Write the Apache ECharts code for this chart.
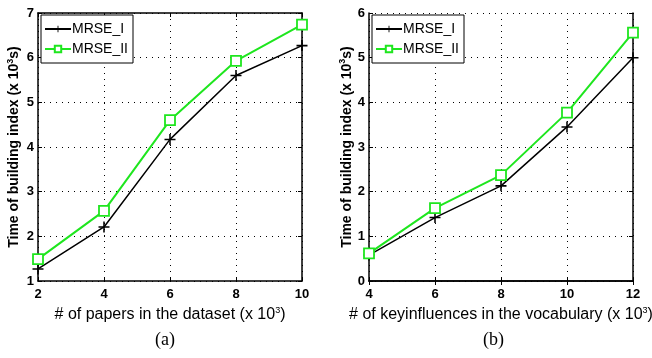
<!DOCTYPE html>
<html><head><meta charset="utf-8">
<script src="https://cdn.jsdelivr.net/npm/echarts@6/dist/echarts.min.js"></script>
<style>html,body{margin:0;padding:0;background:#fff}#c{width:652px;height:358px}</style>
</head><body><div id="c"></div>
<script>
const xA = [2, 4, 6, 8, 10];
const mrse1A = [1.27, 2.21, 4.17, 5.6, 6.27];
const mrse2A = [1.49, 2.57, 4.6, 5.93, 6.74];
const xB = [4, 6, 8, 10, 12];
const mrse1B = [0.58, 1.42, 2.13, 3.45, 5.0];
const mrse2B = [0.62, 1.63, 2.37, 3.77, 5.56];
const seriesNames = ['MRSE_I', 'MRSE_II'];
const xNameA = '# of papers in the dataset (x 10{s|3})';
const xNameB = '# of keyinfluences in the vocabulary (x 10{s|3})';
const yName = 'Time of building index (x 10{s|3}s)';
const subLabels = ['(a)', '(b)'];

const chart = echarts.init(document.getElementById('c'), null, {renderer: 'canvas'});
const GREEN = '#1ee61e';
const plusPath = 'path://M4.3,0 H5.7 V4.3 H10 V5.7 H5.7 V10 H4.3 V5.7 H0 V4.3 H4.3 Z';
const grids = [
  {left: 38, top: 13, width: 264, height: 268, containLabel: false, outerBoundsMode: 'none'},
  {left: 369, top: 13, width: 264, height: 268, containLabel: false, outerBoundsMode: 'none'}
];
function rich(bold) {
  return {s: {fontSize: 9, verticalAlign: 'top', padding: [0, 0, 8, 0], fontFamily: 'Liberation Sans', fontWeight: bold ? 'bold' : 'normal', color: '#000'}};
}
function mainX(gi, min, max, name) {
  return {
    type: 'value', gridIndex: gi, min: min, max: max, interval: 2, position: 'bottom',
    name: name, nameLocation: 'middle', nameGap: 22,
    nameTextStyle: {fontFamily: 'Liberation Sans', fontSize: 16, color: '#000', rich: rich(false)},
    axisLine: {show: true, lineStyle: {color: '#000', width: 1.5}},
    axisTick: {show: true, inside: true, length: 4, lineStyle: {color: '#000'}},
    axisLabel: {fontFamily: 'Liberation Sans', fontWeight: 'bold', fontSize: 13, color: '#000', margin: 7},
    splitLine: {show: true, lineStyle: {color: '#000', type: [1, 5], width: 1}}
  };
}
function topX(gi, min, max) {
  return {
    type: 'value', gridIndex: gi, min: min, max: max, interval: 2, position: 'top',
    axisLine: {show: true, lineStyle: {color: '#000', width: 1.5}},
    axisTick: {show: true, inside: true, length: 4, lineStyle: {color: '#000'}},
    axisLabel: {show: false}, splitLine: {show: false}
  };
}
function mainY(gi, min, max, gap) {
  return {
    type: 'value', gridIndex: gi, min: min, max: max, interval: 1, position: 'left',
    name: yName, nameLocation: 'middle', nameGap: gap, nameRotate: 90,
    nameTextStyle: {fontFamily: 'Liberation Sans', fontWeight: 'bold', fontSize: 14, color: '#000', rich: rich(true)},
    axisLine: {show: true, lineStyle: {color: '#000', width: 1.5}},
    axisTick: {show: true, inside: true, length: 4, lineStyle: {color: '#000'}},
    axisLabel: {fontFamily: 'Liberation Sans', fontWeight: 'bold', fontSize: 13, color: '#000', margin: 4},
    splitLine: {show: true, lineStyle: {color: '#000', type: [1, 5], width: 1}}
  };
}
function rightY(gi, min, max) {
  return {
    type: 'value', gridIndex: gi, min: min, max: max, interval: 1, position: 'right',
    axisLine: {show: true, lineStyle: {color: '#000', width: 1.5}},
    axisTick: {show: true, inside: true, length: 4, lineStyle: {color: '#000'}},
    axisLabel: {show: false}, splitLine: {show: false}
  };
}
function pairs(xs, ys) { return xs.map((x, i) => [x, ys[i]]); }
function s1(xi, yi, xs, ys) {
  return {name: seriesNames[0], type: 'line', xAxisIndex: xi, yAxisIndex: yi, data: pairs(xs, ys),
    symbol: plusPath, symbolSize: 11, showSymbol: true,
    lineStyle: {color: '#000', width: 1.5}, itemStyle: {color: '#000'}, z: 3};
}
function s2(xi, yi, xs, ys) {
  return {name: seriesNames[1], type: 'line', xAxisIndex: xi, yAxisIndex: yi, data: pairs(xs, ys),
    symbol: 'rect', symbolSize: 10, showSymbol: true,
    lineStyle: {color: GREEN, width: 2}, itemStyle: {color: '#fff', borderColor: GREEN, borderWidth: 1.8}, z: 4};
}
function legend(left) {
  return {
    orient: 'vertical', left: left, top: 15, itemWidth: 26, itemHeight: 8, itemGap: 6,
    padding: [7, 5, 7, 3], borderColor: '#000', borderWidth: 1, backgroundColor: '#fff',
    textStyle: {fontFamily: 'Liberation Sans', fontSize: 14, color: '#000', padding: [0, 0, 0, -4]},
    data: seriesNames, selectedMode: false
  };
}
chart.setOption({
  animation: false,
  backgroundColor: '#fff',
  grid: grids,
  xAxis: [mainX(0, 2, 10, xNameA), mainX(1, 4, 12, xNameB), topX(0, 2, 10), topX(1, 4, 12)],
  yAxis: [mainY(0, 1, 7, 15), mainY(1, 0, 6, 12), rightY(0, 1, 7), rightY(1, 0, 6)],
  legend: [legend(41), legend(372)],
  graphic: [
    {type: 'text', left: 155, top: 331, style: {text: subLabels[0], font: '18px "Liberation Serif"', fill: '#000'}},
    {type: 'text', left: 483, top: 331, style: {text: subLabels[1], font: '18px "Liberation Serif"', fill: '#000'}}
  ],
  series: [s1(0, 0, xA, mrse1A), s2(0, 0, xA, mrse2A), s1(1, 1, xB, mrse1B), s2(1, 1, xB, mrse2B)]
});
</script></body></html>
